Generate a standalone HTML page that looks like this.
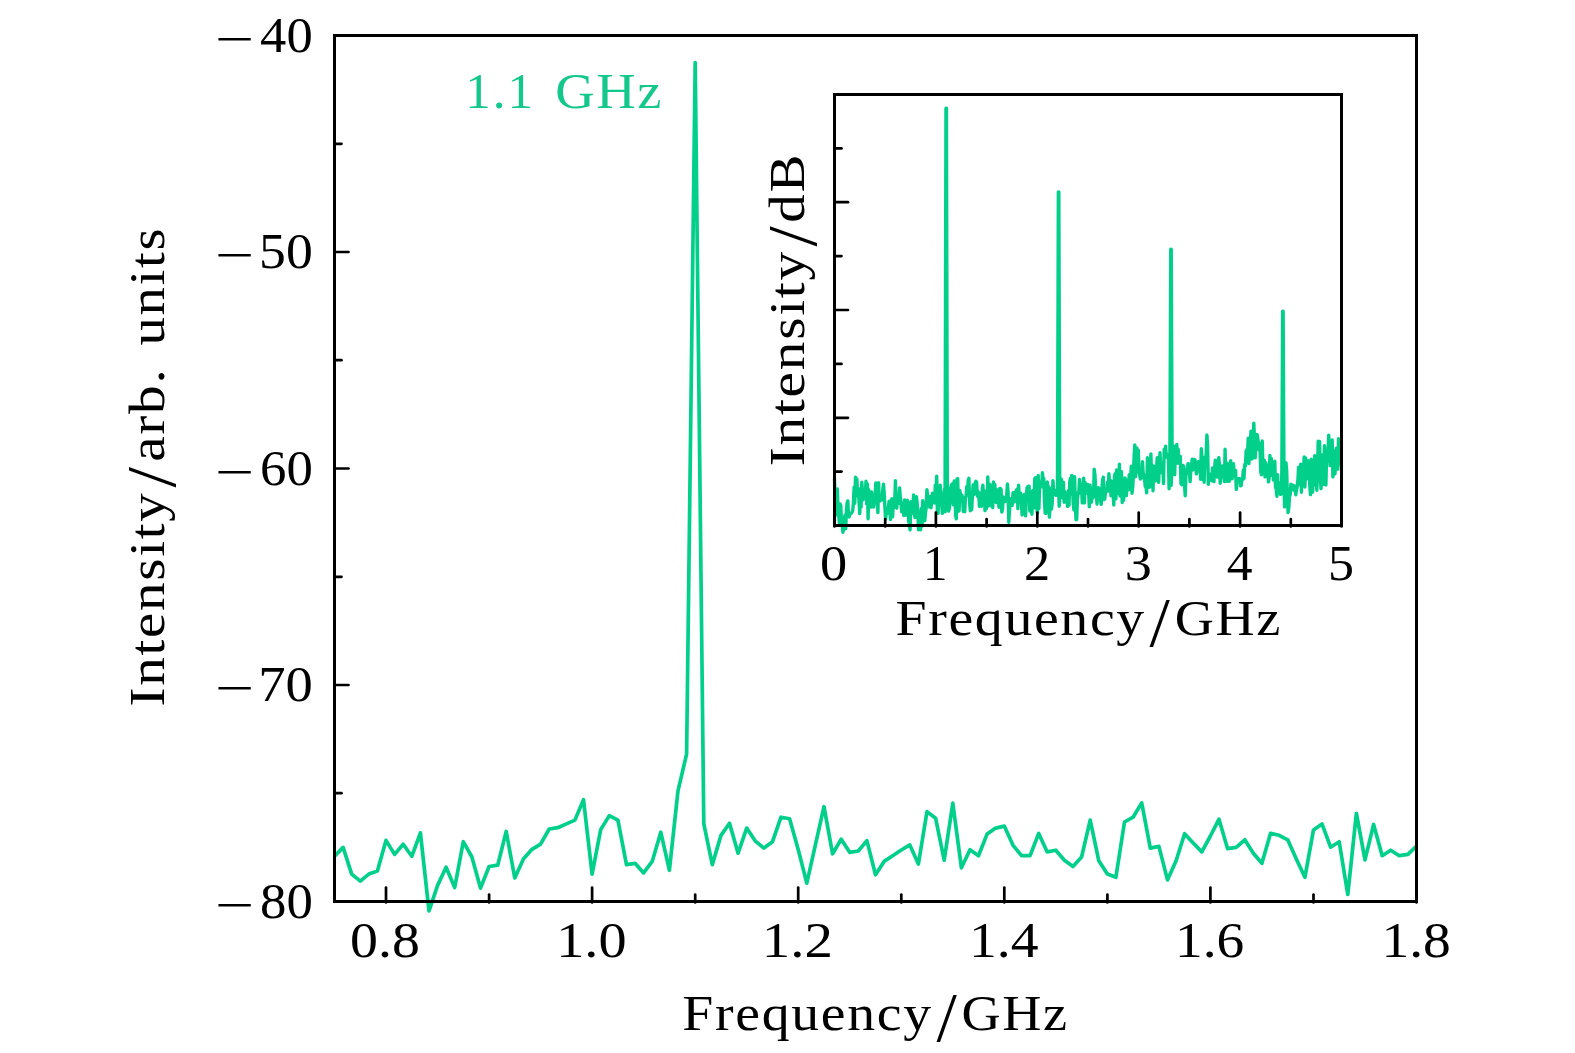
<!DOCTYPE html>
<html lang="en"><head><meta charset="utf-8"><title>RF spectrum</title>
<style>html,body{margin:0;padding:0;background:#fff}body{width:1575px;height:1053px;overflow:hidden}svg{display:block}text{font-family:"Liberation Serif","DejaVu Serif",serif;fill:#000}</style></head><body>
<svg width="1575" height="1053" viewBox="0 0 1575 1053">
<rect width="1575" height="1053" fill="#fff"/>
<polyline fill="none" stroke="#02d08a" stroke-width="3.7" stroke-linejoin="round" stroke-linecap="butt" points="334.5,856.3 343.1,847.4 351.7,874.1 360.3,881.1 368.8,874.1 377.4,871.0 386.0,840.4 394.6,854.4 403.2,844.2 411.8,856.3 420.4,832.8 429.0,911.0 437.5,885.6 446.1,867.2 454.7,887.5 463.3,841.7 471.9,857.0 480.5,888.1 489.1,866.5 497.7,865.2 506.2,831.5 514.8,878.0 523.4,858.9 532.0,849.3 540.6,844.2 549.2,829.0 557.8,827.7 566.4,823.9 574.9,820.1 583.5,799.7 592.1,874.1 600.7,829.6 609.3,815.6 617.9,820.1 626.5,864.6 635.1,863.3 643.6,872.9 652.2,861.4 660.8,832.2 669.4,870.3 678.0,790.8 686.6,754.1 695.2,62.7 703.8,823.9 712.3,864.6 720.9,835.6 729.5,823.3 738.1,853.2 746.7,828.1 755.3,841.1 763.9,848.1 772.5,841.7 781.0,817.2 789.6,818.8 798.2,849.5 806.8,883.1 815.4,844.9 824.0,806.7 832.6,853.8 841.2,839.2 849.7,852.3 858.3,851.0 866.9,840.6 875.5,874.8 884.1,861.4 892.7,855.7 901.3,850.0 909.8,844.9 918.4,864.0 927.0,811.6 935.6,818.2 944.2,860.2 952.8,803.2 961.4,867.8 970.0,849.7 978.5,855.7 987.1,834.1 995.7,828.1 1004.3,826.1 1012.9,845.1 1021.5,855.7 1030.1,855.7 1038.7,833.4 1047.2,851.9 1055.8,850.2 1064.4,860.2 1073.0,866.5 1081.6,857.0 1090.2,820.1 1098.8,860.8 1107.4,874.1 1115.9,877.3 1124.5,822.0 1133.1,817.2 1141.7,802.9 1150.3,848.1 1158.9,846.4 1167.5,879.9 1176.1,860.8 1184.6,833.7 1193.2,843.0 1201.8,851.9 1210.4,836.0 1219.0,819.2 1227.6,848.7 1236.2,847.3 1244.8,839.8 1253.3,853.2 1261.9,863.3 1270.5,833.4 1279.1,835.3 1287.7,839.8 1296.3,858.9 1304.9,877.3 1313.5,829.9 1322.0,823.9 1330.6,847.2 1339.2,841.7 1347.8,894.5 1356.4,813.3 1365.0,859.9 1373.6,824.5 1382.2,855.7 1390.7,850.2 1399.3,855.7 1407.9,854.4 1416.5,846.2"/>
<polyline fill="none" stroke="#02d08a" stroke-width="3.4" stroke-linejoin="round" points="834.5,478.4 835.2,503.9 835.9,515.0 836.6,496.0 837.3,488.9 838.0,507.3 838.7,515.6 839.4,523.4 840.1,504.0 840.8,505.4 841.5,524.1 842.2,523.7 842.9,532.2 843.6,529.3 844.3,518.7 845.0,515.1 845.7,528.8 846.4,510.6 847.1,503.0 847.8,500.9 848.5,515.1 849.2,516.9 849.9,513.5 850.6,513.7 851.3,513.1 852.0,512.4 852.7,510.8 853.4,503.1 854.1,487.1 854.8,503.3 855.5,477.2 856.2,491.9 856.9,479.0 857.6,495.9 858.3,488.3 859.0,500.3 859.7,513.6 860.4,499.5 861.1,507.0 861.8,482.2 862.5,491.3 863.2,499.7 863.9,492.1 864.6,498.4 865.3,495.8 866.0,481.2 866.7,504.0 867.4,484.0 868.1,518.7 868.8,489.8 869.5,506.1 870.2,497.3 870.9,507.1 871.6,492.0 872.3,505.0 873.0,496.1 873.7,507.0 874.4,501.2 875.1,495.5 875.8,483.0 876.5,502.6 877.2,498.0 877.9,512.6 878.6,482.8 879.3,500.4 880.0,501.0 880.7,498.6 881.4,498.9 882.1,499.9 882.8,489.6 883.5,484.3 884.2,493.0 884.9,507.4 885.6,519.0 886.3,512.6 887.0,513.5 887.7,508.9 888.4,507.4 889.1,501.3 889.8,510.9 890.5,519.4 891.2,501.4 891.9,498.8 892.6,516.9 893.3,502.9 894.0,507.7 894.7,504.1 895.4,480.6 896.1,507.1 896.8,508.1 897.5,496.5 898.2,503.5 898.9,497.8 899.6,487.9 900.3,497.1 901.0,503.3 901.7,511.9 902.4,508.6 903.1,503.6 903.8,515.5 904.5,500.0 905.2,512.4 905.9,515.1 906.6,508.5 907.3,500.3 908.0,505.6 908.7,521.8 909.4,523.4 910.1,529.8 910.8,501.7 911.5,509.2 912.2,513.5 912.9,506.1 913.6,494.9 914.3,513.1 915.0,517.5 915.7,514.5 916.4,496.8 917.1,502.6 917.8,511.6 918.5,529.7 919.2,520.6 919.9,512.3 920.6,529.7 921.3,508.5 922.0,526.1 922.7,500.7 923.4,503.1 924.1,514.8 924.8,520.8 925.5,512.5 926.2,508.0 926.9,489.7 927.6,495.8 928.3,496.1 929.0,496.2 929.7,507.1 930.4,496.8 931.1,507.7 931.8,499.4 932.5,493.1 933.2,496.5 933.9,498.8 934.6,503.1 935.3,485.2 936.0,489.7 936.7,476.3 937.4,512.5 938.1,513.3 938.8,495.2 939.5,492.7 940.2,485.3 940.9,501.3 941.6,502.2 942.3,513.3 943.0,503.6 943.7,494.7 944.4,489.6 945.1,511.8 945.8,501.8 946.5,488.9 947.2,501.1 947.9,487.2 948.6,511.1 949.3,508.8 950.0,503.5 950.7,496.3 951.4,484.8 952.1,496.8 952.8,483.4 953.5,504.9 954.2,480.9 954.9,485.9 955.6,515.3 956.3,518.8 957.0,479.1 957.7,478.5 958.4,511.3 959.1,510.7 959.8,490.4 960.5,495.2 961.2,496.9 961.9,495.1 962.6,497.6 963.3,511.4 964.0,506.3 964.7,511.8 965.4,497.6 966.1,496.0 966.8,486.4 967.5,494.6 968.2,480.3 968.9,478.3 969.6,502.5 970.3,510.7 971.0,503.5 971.7,509.7 972.4,496.2 973.1,485.0 973.8,494.7 974.5,490.0 975.2,483.0 975.9,481.3 976.6,482.3 977.3,495.3 978.0,496.9 978.7,492.3 979.4,506.2 980.1,497.7 980.8,500.9 981.5,506.3 982.2,490.2 982.9,485.2 983.6,504.1 984.3,490.8 985.0,510.6 985.7,500.7 986.4,508.5 987.1,505.9 987.8,477.0 988.5,505.8 989.2,485.0 989.9,484.5 990.6,489.7 991.3,505.6 992.0,506.6 992.7,507.6 993.4,482.0 994.1,490.9 994.8,484.5 995.5,496.1 996.2,502.5 996.9,489.8 997.6,499.4 998.3,499.3 999.0,507.2 999.7,488.5 1000.4,488.5 1001.1,489.5 1001.8,512.0 1002.5,509.3 1003.2,497.0 1003.9,500.9 1004.6,500.0 1005.3,501.4 1006.0,497.3 1006.7,496.0 1007.4,484.0 1008.1,492.1 1008.8,522.2 1009.5,510.6 1010.2,503.4 1010.9,498.6 1011.6,502.3 1012.3,505.4 1013.0,492.8 1013.7,502.0 1014.4,501.8 1015.1,492.4 1015.8,491.9 1016.5,489.8 1017.2,489.0 1017.9,508.6 1018.6,485.2 1019.3,497.0 1020.0,493.2 1020.7,493.3 1021.4,502.0 1022.1,515.0 1022.8,502.6 1023.5,500.2 1024.2,494.4 1024.9,501.1 1025.6,515.9 1026.3,497.9 1027.0,487.8 1027.7,486.7 1028.4,488.8 1029.1,486.2 1029.8,511.0 1030.5,503.3 1031.2,496.8 1031.9,514.2 1032.6,490.8 1033.3,507.2 1034.0,507.9 1034.7,478.8 1035.4,477.7 1036.1,482.9 1036.8,507.9 1037.5,513.0 1038.2,475.5 1038.9,508.4 1039.6,486.2 1040.3,485.2 1041.0,481.9 1041.7,486.7 1042.4,472.8 1043.1,479.9 1043.8,478.5 1044.5,501.9 1045.2,513.2 1045.9,513.4 1046.6,494.3 1047.3,481.9 1048.0,493.5 1048.7,486.6 1049.4,517.1 1050.1,506.6 1050.8,488.8 1051.5,509.1 1052.2,503.1 1052.9,480.6 1053.6,489.7 1054.3,492.3 1055.0,494.2 1055.7,495.1 1056.4,490.3 1057.1,495.3 1057.8,487.2 1058.5,483.7 1059.2,506.2 1059.9,495.3 1060.6,495.2 1061.3,478.9 1062.0,488.7 1062.7,497.7 1063.4,482.2 1064.1,502.2 1064.8,491.8 1065.5,499.2 1066.2,496.3 1066.9,500.2 1067.6,506.3 1068.3,490.8 1069.0,505.2 1069.7,482.3 1070.4,478.2 1071.1,494.0 1071.8,475.4 1072.5,485.3 1073.2,503.3 1073.9,509.7 1074.6,476.6 1075.3,504.7 1076.0,519.7 1076.7,519.5 1077.4,499.4 1078.1,492.5 1078.8,493.4 1079.5,479.4 1080.2,486.2 1080.9,487.7 1081.6,488.7 1082.3,502.8 1083.0,489.0 1083.7,478.2 1084.4,502.9 1085.1,482.5 1085.8,489.3 1086.5,493.0 1087.2,491.5 1087.9,484.5 1088.6,490.9 1089.3,506.7 1090.0,485.2 1090.7,489.2 1091.4,502.3 1092.1,497.3 1092.8,496.8 1093.5,497.3 1094.2,469.3 1094.9,474.4 1095.6,485.9 1096.3,491.8 1097.0,504.0 1097.7,495.2 1098.4,487.7 1099.1,493.3 1099.8,491.8 1100.5,499.8 1101.2,504.4 1101.9,488.4 1102.6,479.9 1103.3,477.2 1104.0,499.6 1104.7,499.3 1105.4,493.1 1106.1,489.5 1106.8,490.4 1107.5,482.1 1108.2,491.0 1108.9,473.6 1109.6,484.4 1110.3,480.4 1111.0,495.8 1111.7,481.1 1112.4,486.3 1113.1,492.5 1113.8,505.0 1114.5,476.4 1115.2,473.8 1115.9,498.9 1116.6,470.0 1117.3,493.8 1118.0,477.3 1118.7,484.5 1119.4,464.3 1120.1,496.0 1120.8,477.5 1121.5,471.7 1122.2,502.5 1122.9,492.7 1123.6,500.2 1124.3,487.4 1125.0,477.9 1125.7,482.7 1126.4,495.6 1127.1,480.3 1127.8,486.9 1128.5,489.8 1129.2,474.8 1129.9,489.4 1130.6,479.9 1131.3,466.1 1132.0,493.2 1132.7,487.4 1133.4,475.4 1134.1,456.4 1134.8,444.9 1135.5,476.7 1136.2,467.8 1136.9,448.0 1137.6,469.9 1138.3,450.1 1139.0,471.9 1139.7,475.1 1140.4,479.0 1141.1,477.6 1141.8,477.7 1142.5,461.8 1143.2,474.0 1143.9,474.6 1144.6,479.8 1145.3,486.6 1146.0,487.1 1146.7,492.7 1147.4,457.7 1148.1,475.9 1148.8,464.8 1149.5,487.2 1150.2,482.9 1150.9,453.9 1151.6,479.4 1152.3,469.1 1153.0,490.7 1153.7,465.9 1154.4,480.1 1155.1,481.0 1155.8,478.9 1156.5,470.1 1157.2,457.6 1157.9,478.2 1158.6,482.4 1159.3,466.5 1160.0,452.8 1160.7,467.9 1161.4,472.5 1162.1,462.7 1162.8,464.7 1163.5,483.5 1164.2,449.1 1164.9,457.1 1165.6,446.2 1166.3,456.9 1167.0,457.2 1167.7,454.5 1168.4,458.0 1169.1,488.7 1169.8,464.3 1170.5,464.8 1171.2,485.2 1171.9,463.7 1172.6,445.7 1173.3,467.1 1174.0,450.3 1174.7,474.7 1175.4,446.1 1176.1,453.2 1176.8,444.5 1177.5,463.1 1178.2,449.2 1178.9,463.2 1179.6,459.5 1180.3,456.4 1181.0,483.5 1181.7,484.8 1182.4,474.8 1183.1,465.4 1183.8,467.0 1184.5,484.1 1185.2,495.7 1185.9,476.5 1186.6,471.1 1187.3,469.4 1188.0,463.6 1188.7,464.0 1189.4,469.8 1190.1,481.6 1190.8,470.3 1191.5,465.9 1192.2,459.3 1192.9,470.0 1193.6,467.8 1194.3,459.4 1195.0,459.7 1195.7,466.1 1196.4,473.8 1197.1,470.8 1197.8,467.0 1198.5,461.6 1199.2,467.5 1199.9,463.7 1200.6,479.2 1201.3,448.8 1202.0,457.4 1202.7,479.5 1203.4,457.4 1204.1,482.2 1204.8,459.6 1205.5,462.3 1206.2,452.6 1206.9,435.0 1207.6,444.9 1208.3,484.3 1209.0,473.7 1209.7,474.0 1210.4,479.1 1211.1,475.3 1211.8,480.7 1212.5,468.0 1213.2,469.1 1213.9,481.6 1214.6,469.0 1215.3,460.2 1216.0,470.0 1216.7,466.0 1217.4,477.1 1218.1,462.4 1218.8,457.8 1219.5,464.9 1220.2,483.3 1220.9,466.6 1221.6,468.3 1222.3,465.9 1223.0,468.7 1223.7,476.0 1224.4,481.5 1225.1,449.3 1225.8,481.3 1226.5,466.2 1227.2,463.2 1227.9,481.3 1228.6,465.8 1229.3,481.2 1230.0,477.9 1230.7,460.7 1231.4,475.5 1232.1,478.7 1232.8,472.6 1233.5,463.8 1234.2,473.3 1234.9,475.7 1235.6,470.4 1236.3,489.4 1237.0,478.9 1237.7,479.0 1238.4,480.8 1239.1,478.5 1239.8,479.7 1240.5,485.9 1241.2,485.7 1241.9,478.5 1242.6,479.6 1243.3,470.0 1244.0,478.5 1244.7,464.5 1245.4,466.0 1246.1,451.3 1246.8,449.8 1247.5,454.6 1248.2,438.2 1248.9,463.6 1249.6,446.4 1250.3,443.2 1251.0,431.1 1251.7,459.0 1252.4,458.4 1253.1,444.6 1253.8,423.1 1254.5,439.8 1255.2,457.9 1255.9,442.4 1256.6,434.4 1257.3,435.0 1258.0,440.0 1258.7,449.6 1259.4,443.1 1260.1,452.5 1260.8,472.2 1261.5,474.7 1262.2,440.9 1262.9,463.3 1263.6,461.4 1264.3,460.3 1265.0,476.9 1265.7,462.6 1266.4,465.0 1267.1,467.0 1267.8,470.3 1268.5,481.9 1269.2,476.9 1269.9,455.5 1270.6,463.4 1271.3,458.5 1272.0,475.4 1272.7,468.1 1273.4,480.0 1274.1,472.9 1274.8,461.2 1275.5,487.2 1276.2,488.6 1276.9,496.2 1277.6,474.7 1278.3,491.5 1279.0,482.6 1279.7,482.8 1280.4,494.3 1281.1,494.2 1281.8,478.7 1282.5,471.2 1283.2,469.6 1283.9,480.0 1284.6,506.9 1285.3,487.4 1286.0,462.7 1286.7,471.1 1287.4,496.5 1288.1,512.6 1288.8,507.8 1289.5,496.3 1290.2,494.7 1290.9,484.2 1291.6,489.8 1292.3,489.6 1293.0,485.3 1293.7,490.1 1294.4,485.9 1295.1,489.3 1295.8,494.7 1296.5,490.0 1297.2,486.7 1297.9,479.8 1298.6,467.1 1299.3,478.1 1300.0,484.4 1300.7,464.1 1301.4,492.2 1302.1,469.7 1302.8,478.5 1303.5,468.6 1304.2,456.9 1304.9,487.0 1305.6,458.0 1306.3,479.2 1307.0,463.9 1307.7,473.7 1308.4,460.8 1309.1,465.9 1309.8,485.8 1310.5,494.6 1311.2,459.1 1311.9,474.2 1312.6,492.1 1313.3,461.1 1314.0,485.3 1314.7,455.6 1315.4,480.9 1316.1,476.4 1316.8,490.2 1317.5,472.6 1318.2,441.1 1318.9,476.0 1319.6,441.5 1320.3,477.2 1321.0,488.6 1321.7,474.5 1322.4,454.9 1323.1,484.5 1323.8,467.8 1324.5,445.8 1325.2,458.1 1325.9,485.0 1326.6,455.8 1327.3,461.6 1328.0,452.0 1328.7,435.1 1329.4,450.7 1330.1,465.6 1330.8,463.7 1331.5,458.4 1332.2,440.0 1332.9,476.9 1333.6,468.6 1334.3,471.5 1335.0,473.8 1335.7,450.8 1336.4,448.3 1337.1,458.4 1337.8,469.1 1338.5,438.7 1339.2,450.6 1339.9,445.8 1340.6,458.5 1341.5,466.3"/>
<polyline fill="none" stroke="#02d08a" stroke-width="3.5" stroke-linejoin="round" points="945.1,500.1 946.00,108.2 946.40,108.2 947.3,500.1"/>
<polyline fill="none" stroke="#02d08a" stroke-width="3.5" stroke-linejoin="round" points="1057.5,493.0 1058.40,192.0 1058.80,192.0 1059.7,493.0"/>
<polyline fill="none" stroke="#02d08a" stroke-width="3.5" stroke-linejoin="round" points="1169.9,466.0 1170.80,249.2 1171.20,249.2 1172.1,466.0"/>
<polyline fill="none" stroke="#02d08a" stroke-width="3.5" stroke-linejoin="round" points="1281.8,489.0 1282.70,311.2 1283.10,311.2 1284.0,489.0"/>
<rect x="334.5" y="35.5" width="1082.0" height="866.0" fill="none" stroke="#000" stroke-width="3.0"/>
<line x1="386.0" y1="902.5" x2="386.0" y2="887.5" stroke="#000" stroke-width="2.7" stroke-linecap="round"/>
<line x1="489.1" y1="902.5" x2="489.1" y2="894.5" stroke="#000" stroke-width="2.7" stroke-linecap="round"/>
<line x1="592.1" y1="902.5" x2="592.1" y2="887.5" stroke="#000" stroke-width="2.7" stroke-linecap="round"/>
<line x1="695.2" y1="902.5" x2="695.2" y2="894.5" stroke="#000" stroke-width="2.7" stroke-linecap="round"/>
<line x1="798.2" y1="902.5" x2="798.2" y2="887.5" stroke="#000" stroke-width="2.7" stroke-linecap="round"/>
<line x1="901.3" y1="902.5" x2="901.3" y2="894.5" stroke="#000" stroke-width="2.7" stroke-linecap="round"/>
<line x1="1004.3" y1="902.5" x2="1004.3" y2="887.5" stroke="#000" stroke-width="2.7" stroke-linecap="round"/>
<line x1="1107.4" y1="902.5" x2="1107.4" y2="894.5" stroke="#000" stroke-width="2.7" stroke-linecap="round"/>
<line x1="1210.4" y1="902.5" x2="1210.4" y2="887.5" stroke="#000" stroke-width="2.7" stroke-linecap="round"/>
<line x1="1313.5" y1="902.5" x2="1313.5" y2="894.5" stroke="#000" stroke-width="2.7" stroke-linecap="round"/>
<line x1="1416.5" y1="902.5" x2="1416.5" y2="887.5" stroke="#000" stroke-width="2.7" stroke-linecap="round"/>
<line x1="334.5" y1="35.5" x2="348.5" y2="35.5" stroke="#000" stroke-width="2.7" stroke-linecap="round"/>
<line x1="334.5" y1="143.8" x2="341.5" y2="143.8" stroke="#000" stroke-width="2.7" stroke-linecap="round"/>
<line x1="334.5" y1="252.0" x2="348.5" y2="252.0" stroke="#000" stroke-width="2.7" stroke-linecap="round"/>
<line x1="334.5" y1="360.2" x2="341.5" y2="360.2" stroke="#000" stroke-width="2.7" stroke-linecap="round"/>
<line x1="334.5" y1="468.5" x2="348.5" y2="468.5" stroke="#000" stroke-width="2.7" stroke-linecap="round"/>
<line x1="334.5" y1="576.8" x2="341.5" y2="576.8" stroke="#000" stroke-width="2.7" stroke-linecap="round"/>
<line x1="334.5" y1="685.0" x2="348.5" y2="685.0" stroke="#000" stroke-width="2.7" stroke-linecap="round"/>
<line x1="334.5" y1="793.2" x2="341.5" y2="793.2" stroke="#000" stroke-width="2.7" stroke-linecap="round"/>
<line x1="334.5" y1="901.5" x2="348.5" y2="901.5" stroke="#000" stroke-width="2.7" stroke-linecap="round"/>
<rect x="834.5" y="94.5" width="507.0" height="431.0" fill="none" stroke="#000" stroke-width="3.0"/>
<line x1="834.5" y1="526.5" x2="834.5" y2="512.5" stroke="#000" stroke-width="2.7" stroke-linecap="round"/>
<line x1="885.2" y1="526.5" x2="885.2" y2="519.0" stroke="#000" stroke-width="2.7" stroke-linecap="round"/>
<line x1="935.9" y1="526.5" x2="935.9" y2="512.5" stroke="#000" stroke-width="2.7" stroke-linecap="round"/>
<line x1="986.6" y1="526.5" x2="986.6" y2="519.0" stroke="#000" stroke-width="2.7" stroke-linecap="round"/>
<line x1="1037.3" y1="526.5" x2="1037.3" y2="512.5" stroke="#000" stroke-width="2.7" stroke-linecap="round"/>
<line x1="1088.0" y1="526.5" x2="1088.0" y2="519.0" stroke="#000" stroke-width="2.7" stroke-linecap="round"/>
<line x1="1138.7" y1="526.5" x2="1138.7" y2="512.5" stroke="#000" stroke-width="2.7" stroke-linecap="round"/>
<line x1="1189.4" y1="526.5" x2="1189.4" y2="519.0" stroke="#000" stroke-width="2.7" stroke-linecap="round"/>
<line x1="1240.1" y1="526.5" x2="1240.1" y2="512.5" stroke="#000" stroke-width="2.7" stroke-linecap="round"/>
<line x1="1290.8" y1="526.5" x2="1290.8" y2="519.0" stroke="#000" stroke-width="2.7" stroke-linecap="round"/>
<line x1="1341.5" y1="526.5" x2="1341.5" y2="512.5" stroke="#000" stroke-width="2.7" stroke-linecap="round"/>
<line x1="834.5" y1="94.5" x2="848.0" y2="94.5" stroke="#000" stroke-width="2.7" stroke-linecap="round"/>
<line x1="834.5" y1="148.4" x2="841.5" y2="148.4" stroke="#000" stroke-width="2.7" stroke-linecap="round"/>
<line x1="834.5" y1="202.2" x2="848.0" y2="202.2" stroke="#000" stroke-width="2.7" stroke-linecap="round"/>
<line x1="834.5" y1="256.1" x2="841.5" y2="256.1" stroke="#000" stroke-width="2.7" stroke-linecap="round"/>
<line x1="834.5" y1="310.0" x2="848.0" y2="310.0" stroke="#000" stroke-width="2.7" stroke-linecap="round"/>
<line x1="834.5" y1="363.9" x2="841.5" y2="363.9" stroke="#000" stroke-width="2.7" stroke-linecap="round"/>
<line x1="834.5" y1="417.8" x2="848.0" y2="417.8" stroke="#000" stroke-width="2.7" stroke-linecap="round"/>
<line x1="834.5" y1="471.6" x2="841.5" y2="471.6" stroke="#000" stroke-width="2.7" stroke-linecap="round"/>
<line x1="834.5" y1="525.5" x2="848.0" y2="525.5" stroke="#000" stroke-width="2.7" stroke-linecap="round"/>
<text text-anchor="start"><tspan x="214.8" y="55.5" font-size="50" textLength="39.2" lengthAdjust="spacingAndGlyphs">−</tspan><tspan x="260.1" y="51.8" font-size="50" textLength="52.6" lengthAdjust="spacingAndGlyphs">40</tspan></text>
<text text-anchor="start"><tspan x="214.8" y="272.0" font-size="50" textLength="39.2" lengthAdjust="spacingAndGlyphs">−</tspan><tspan x="259.1" y="268.3" font-size="50" textLength="53.7" lengthAdjust="spacingAndGlyphs">50</tspan></text>
<text text-anchor="start"><tspan x="214.8" y="488.5" font-size="50" textLength="39.2" lengthAdjust="spacingAndGlyphs">−</tspan><tspan x="260.0" y="484.8" font-size="50" textLength="52.8" lengthAdjust="spacingAndGlyphs">60</tspan></text>
<text text-anchor="start"><tspan x="214.8" y="705.0" font-size="50" textLength="39.2" lengthAdjust="spacingAndGlyphs">−</tspan><tspan x="258.2" y="701.3" font-size="50" textLength="54.6" lengthAdjust="spacingAndGlyphs">70</tspan></text>
<text text-anchor="start"><tspan x="214.8" y="921.5" font-size="50" textLength="39.2" lengthAdjust="spacingAndGlyphs">−</tspan><tspan x="260.0" y="917.8" font-size="50" textLength="52.8" lengthAdjust="spacingAndGlyphs">80</tspan></text>
<text text-anchor="start"><tspan x="350.1" y="957.0" font-size="50" textLength="69.8" lengthAdjust="spacingAndGlyphs">0.8</tspan></text>
<text text-anchor="start"><tspan x="556.2" y="957.0" font-size="50" textLength="70.4" lengthAdjust="spacingAndGlyphs">1.0</tspan></text>
<text text-anchor="start"><tspan x="761.8" y="957.0" font-size="50" textLength="71.1" lengthAdjust="spacingAndGlyphs">1.2</tspan></text>
<text text-anchor="start"><tspan x="968.9" y="957.0" font-size="50" textLength="69.6" lengthAdjust="spacingAndGlyphs">1.4</tspan></text>
<text text-anchor="start"><tspan x="1175.0" y="957.0" font-size="50" textLength="69.2" lengthAdjust="spacingAndGlyphs">1.6</tspan></text>
<text text-anchor="start"><tspan x="1381.4" y="957.0" font-size="50" textLength="69.4" lengthAdjust="spacingAndGlyphs">1.8</tspan></text>
<text text-anchor="start"><tspan x="682.3" y="1030.3" font-size="50" textLength="250.4" lengthAdjust="spacingAndGlyphs" style="letter-spacing:1.5px">Frequency</tspan><tspan x="936.4" y="1041.2" font-size="69" textLength="20.3" lengthAdjust="spacingAndGlyphs">/</tspan><tspan x="961.6" y="1030.3" font-size="50" textLength="107.2" lengthAdjust="spacingAndGlyphs" style="letter-spacing:1.5px">GHz</tspan></text>
<text text-anchor="start" transform="translate(163.6,704.6) rotate(-90)"><tspan x="-1.8" y="0.0" font-size="50" textLength="214.9" lengthAdjust="spacingAndGlyphs" style="letter-spacing:1.5px">Intensity</tspan><tspan x="217.0" y="11.2" font-size="69" textLength="20.5" lengthAdjust="spacingAndGlyphs">/</tspan><tspan x="242.8" y="0.0" font-size="50" textLength="94.3" lengthAdjust="spacingAndGlyphs" style="letter-spacing:1.5px">arb.</tspan><tspan x="359.0" y="0.0" font-size="50" textLength="119.0" lengthAdjust="spacingAndGlyphs" style="letter-spacing:1.5px">units</tspan></text>
<text text-anchor="start" style="fill:#14c88c"><tspan x="465.3" y="107.8" font-size="50" textLength="69.8" lengthAdjust="spacingAndGlyphs" style="letter-spacing:2px">1.1</tspan><tspan x="555.3" y="107.8" font-size="50" textLength="107.9" lengthAdjust="spacingAndGlyphs" style="letter-spacing:1.5px">GHz</tspan></text>
<text text-anchor="start"><tspan x="820.1" y="579.7" font-size="50" textLength="27.2" lengthAdjust="spacingAndGlyphs">0</tspan></text>
<text text-anchor="start"><tspan x="923.0" y="579.7" font-size="50" textLength="24.5" lengthAdjust="spacingAndGlyphs">1</tspan></text>
<text text-anchor="start"><tspan x="1024.0" y="579.7" font-size="50" textLength="26.2" lengthAdjust="spacingAndGlyphs">2</tspan></text>
<text text-anchor="start"><tspan x="1124.7" y="579.7" font-size="50" textLength="27.1" lengthAdjust="spacingAndGlyphs">3</tspan></text>
<text text-anchor="start"><tspan x="1226.8" y="579.7" font-size="50" textLength="25.8" lengthAdjust="spacingAndGlyphs">4</tspan></text>
<text text-anchor="start"><tspan x="1328.1" y="579.7" font-size="50" textLength="26.0" lengthAdjust="spacingAndGlyphs">5</tspan></text>
<text text-anchor="start"><tspan x="895.5" y="634.6" font-size="50" textLength="250.4" lengthAdjust="spacingAndGlyphs" style="letter-spacing:1.5px">Frequency</tspan><tspan x="1149.6" y="645.5" font-size="69" textLength="20.3" lengthAdjust="spacingAndGlyphs">/</tspan><tspan x="1174.8" y="634.6" font-size="50" textLength="107.2" lengthAdjust="spacingAndGlyphs" style="letter-spacing:1.5px">GHz</tspan></text>
<text text-anchor="start" transform="translate(803.9,464.4) rotate(-90)"><tspan x="-1.8" y="0.0" font-size="50" textLength="216.0" lengthAdjust="spacingAndGlyphs" style="letter-spacing:1.5px">Intensity</tspan><tspan x="217.9" y="11.8" font-size="69" textLength="20.3" lengthAdjust="spacingAndGlyphs">/</tspan><tspan x="241.7" y="0.0" font-size="50" textLength="69.8" lengthAdjust="spacingAndGlyphs" style="letter-spacing:1.5px">dB</tspan></text>
</svg></body></html>
